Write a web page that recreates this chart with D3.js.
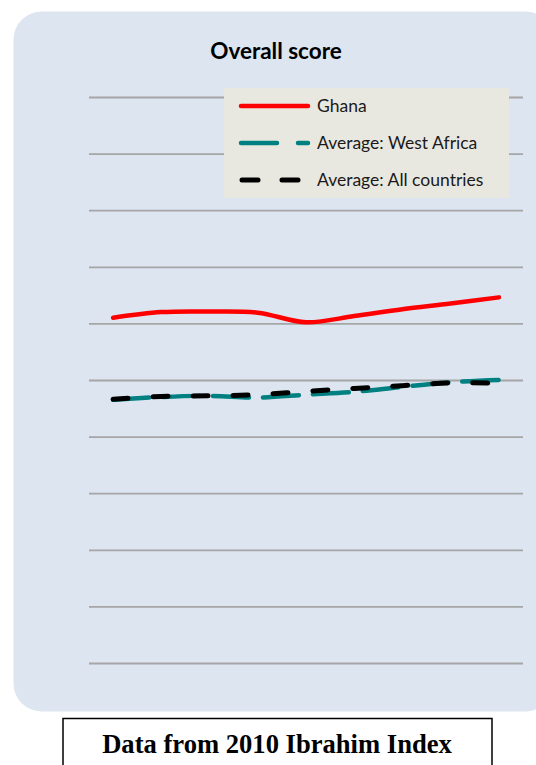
<!DOCTYPE html>
<html>
<head>
<meta charset="utf-8">
<script src="https://cdn.jsdelivr.net/npm/d3@7"></script>
<style>
  body { margin: 0; background: #fff; }
  svg { display: block; }
</style>
</head>
<body>
<div id="chart"></div>
<script>
// data (score, 0-100)
const years = ["2000", "2001", "2002", "2003", "2004", "2005", "2006", "2007", "2008"];
const ghana = [61.0, 62.0, 62.1, 61.9, 60.2, 61.3, 62.5, 63.5, 64.6];
const westAfrica = [46.5, 47.0, 47.2, 46.9, 47.4, 47.9, 48.8, 49.6, 50.0];
const allCountries = [46.6, 47.1, 47.2, 47.4, 48.0, 48.5, 49.0, 49.5, 49.4];
const seriesNames = ["Ghana", "Average: West Africa", "Average: All countries"];
const gridTicks = [0, 10, 20, 30, 40, 50, 60, 70, 80, 90, 100];

const width = 536, height = 765;
const plot = { left: 89, right: 523, top: 97, bottom: 663 };

const svg = d3.select("#chart").append("svg")
    .attr("width", width)
    .attr("height", height);

// rounded panel behind the chart
svg.append("rect")
    .attr("x", 13.5).attr("y", 11.5)
    .attr("width", 540).attr("height", 700)
    .attr("rx", 28).attr("ry", 28)
    .attr("fill", "#dce5f0");

svg.append("text")
    .attr("x", 276).attr("y", 58.5)
    .attr("text-anchor", "middle")
    .style("font-family", "Lato, 'Open Sans', sans-serif")
    .style("font-weight", "bold")
    .style("font-size", "22.5px")
    .text("Overall score");

const x = d3.scalePoint()
    .domain(years)
    .range([plot.left, plot.right])
    .padding(0.5);

const y = d3.scaleLinear()
    .domain([0, 100])
    .range([plot.bottom, plot.top]);

// gridlines only, no labels
const grid = svg.append("g")
    .attr("transform", `translate(${plot.left},0)`)
    .call(d3.axisLeft(y).tickValues(gridTicks).tickSize(-(plot.right - plot.left)).tickFormat(""));
grid.select(".domain").remove();
grid.selectAll(".tick line")
    .attr("stroke", "#a6a6a6")
    .attr("stroke-width", 1.8);

const series = [
    { name: seriesNames[0], values: ghana, color: "#ff0000", width: 4.5, dash: null, legendDash: null },
    { name: seriesNames[1], values: westAfrica, color: "#008080", width: 4.5, dash: "36,14", legendDash: "36,21" },
    { name: seriesNames[2], values: allCountries, color: "#000000", width: 5, dash: "15,25", legendDash: "16,24" }
];

const line = d3.line()
    .x((d, i) => x(years[i]))
    .y(d => y(d))
    .curve(d3.curveCatmullRom.alpha(0));

svg.append("g").selectAll("path")
    .data(series)
    .join("path")
    .attr("d", d => line(d.values))
    .attr("fill", "none")
    .attr("stroke", d => d.color)
    .attr("stroke-width", d => d.width)
    .attr("stroke-linecap", "round")
    .attr("stroke-dasharray", d => d.dash);

// legend box (covers the top gridline like the original)
const legend = svg.append("g");
legend.append("rect")
    .attr("x", 224).attr("y", 88)
    .attr("width", 285).attr("height", 110)
    .attr("fill", "#e9e8e0");

const rows = legend.selectAll("g.row")
    .data(series)
    .join("g")
    .attr("class", "row")
    .attr("transform", (d, i) => `translate(0,${106 + i * 37})`);

rows.append("line")
    .attr("x1", d => d.legendDash === "16,24" ? 242 : 241)
    .attr("x2", 308)
    .attr("stroke", d => d.color)
    .attr("stroke-width", d => d.width)
    .attr("stroke-linecap", "round")
    .attr("stroke-dasharray", d => d.legendDash);

rows.append("text")
    .attr("x", 317).attr("y", 6)
    .style("font-family", "Lato, 'Open Sans', sans-serif")
    .style("font-size", "17.5px")
    .attr("fill", "#1a1a1a")
    .text(d => d.name);

// source note box
svg.append("rect")
    .attr("x", 63).attr("y", 718.5)
    .attr("width", 429).attr("height", 70)
    .attr("fill", "#fff")
    .attr("stroke", "#000")
    .attr("stroke-width", 1.5);

svg.append("text")
    .attr("x", 277).attr("y", 753)
    .attr("text-anchor", "middle")
    .style("font-family", "'Liberation Serif', 'Times New Roman', serif")
    .style("font-weight", "bold")
    .style("font-size", "26.6px")
    .text("Data from 2010 Ibrahim Index");
</script>
</body>
</html>
